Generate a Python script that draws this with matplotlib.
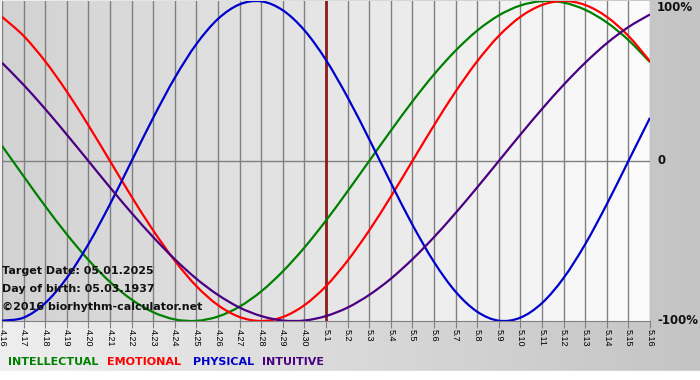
import numpy as np
import matplotlib
matplotlib.use("Agg")
import matplotlib.pyplot as plt
from matplotlib.colors import LinearSegmentedColormap
from matplotlib.path import Path
from matplotlib.patches import PathPatch

# --- data (daily values, 4.16 .. 5.16) ---
dates = ["4.16", "4.17", "4.18", "4.19", "4.20", "4.21", "4.22", "4.23", "4.24",
         "4.25", "4.26", "4.27", "4.28", "4.29", "4.30", "5.1", "5.2", "5.3",
         "5.4", "5.5", "5.6", "5.7", "5.8", "5.9", "5.10", "5.11", "5.12",
         "5.13", "5.14", "5.15", "5.16"]

intellectual = [0.095, -0.095, -0.282, -0.458, -0.618, -0.756, -0.866, -0.945,
                -0.990, -0.999, -0.972, -0.910, -0.815, -0.690, -0.541, -0.372,
                -0.189, 0.0, 0.189, 0.372, 0.541, 0.690, 0.815, 0.910, 0.972,
                0.999, 0.990, 0.945, 0.866, 0.756, 0.618]

emotional = [0.901, 0.782, 0.623, 0.434, 0.223, 0.0, -0.223, -0.434, -0.623,
             -0.782, -0.901, -0.975, -1.0, -0.975, -0.901, -0.782, -0.623,
             -0.434, -0.223, 0.0, 0.223, 0.434, 0.623, 0.782, 0.901, 0.975,
             1.0, 0.975, 0.901, 0.782, 0.623]

physical = [-0.998, -0.979, -0.888, -0.731, -0.520, -0.270, 0.0, 0.270, 0.520,
            0.731, 0.888, 0.979, 0.998, 0.942, 0.817, 0.631, 0.398, 0.136,
            -0.136, -0.398, -0.631, -0.817, -0.942, -0.998, -0.979, -0.888,
            -0.731, -0.520, -0.270, 0.0, 0.270]

intuitive = [0.614, 0.476, 0.325, 0.165, 0.0, -0.165, -0.325, -0.476, -0.614,
             -0.736, -0.837, -0.916, -0.969, -0.997, -0.997, -0.969, -0.916,
             -0.837, -0.736, -0.614, -0.476, -0.325, -0.165, 0.0, 0.165, 0.325,
             0.476, 0.614, 0.736, 0.837, 0.916]

target_day = "5.1"
target_text = "Target Date: 05.01.2025"
birth_text = "Day of birth: 05.03.1937"
credit_text = "\u00a92016 biorhythm-calculator.net"

series = [("INTELLECTUAL", intellectual, "#008000"),
          ("EMOTIONAL", emotional, "#ff0000"),
          ("PHYSICAL", physical, "#0000cc"),
          ("INTUITIVE", intuitive, "#4b0082")]


def smooth_path(xs, ys):
    # cubic bezier segments through the daily points (catmull-rom tangents)
    pts = np.column_stack([xs, ys]).astype(float)
    ext = np.vstack([pts[0], pts, pts[-1]])
    verts = [pts[0]]
    codes = [Path.MOVETO]
    for i in range(len(pts) - 1):
        p0, p1, p2, p3 = ext[i], ext[i + 1], ext[i + 2], ext[i + 3]
        verts += [p1 + (p2 - p0) / 6, p2 - (p3 - p1) / 6, p2]
        codes += [Path.CURVE4] * 3
    return Path(verts, codes)


W, H = 700, 380
fig = plt.figure(figsize=(W / 100, H / 100), dpi=100)

# page background: light on the left, grey on the right
bg = fig.add_axes([0, 0, 1, 1])
bg_cmap = LinearSegmentedColormap.from_list("bg", ["#eeeeee", "#c4c4c4"])
bg.imshow(np.linspace(0, 1, 256)[None, :], cmap=bg_cmap, aspect="auto",
          extent=[0, 1, 0, 1])
bg.axhspan(0, 9 / H, color="white")
bg.set_xlim(0, 1)
bg.set_ylim(0, 1)
bg.axis("off")

# main plot
ax = fig.add_axes([2 / W, 59 / H, 648 / W, 320 / H])
x = np.arange(len(dates))
ax.set_xlim(0, len(dates) - 1)
ax.set_ylim(-1, 1)

plot_cmap = LinearSegmentedColormap.from_list("pl", ["#d2d2d2", "#e6e6e6", "#fcfcfc"])
ax.imshow(np.linspace(0, 1, 256)[None, :], cmap=plot_cmap, aspect="auto",
          extent=[0, len(dates) - 1, -1, 1], zorder=0)

for xi in x:
    ax.axvline(xi, color="#808080", lw=1, zorder=1)
ax.axhline(0, color="#808080", lw=1, zorder=1)
ax.axvline(dates.index(target_day), color="#8b1c1c", lw=2, zorder=2)

for name, vals, col in series:
    ax.add_patch(PathPatch(smooth_path(x, vals), facecolor="none",
                           edgecolor=col, lw=1.6, zorder=3))

ax.set_xticks(x)
ax.set_xticklabels(dates, family="Liberation Sans")
ax.tick_params(axis="x", length=5, color="#808080", labelsize=6.5,
               labelrotation=270, pad=1)
ax.set_yticks([])
for s in ["top", "left", "right"]:
    ax.spines[s].set_visible(False)
ax.spines["bottom"].set_color("#808080")

# right-hand percentage labels
for yv, lab in [(0.96, "100%"), (0.0, "0"), (-1.0, "-100%")]:
    ax.text(1.011, yv, lab, transform=ax.get_yaxis_transform(), ha="left",
            va="center", fontsize=8.5, fontweight="bold", color="#111111",
            clip_on=False)

# info text
for ypx, txt in [(271, target_text), (289, birth_text), (307, credit_text)]:
    fig.text(2 / W, 1 - ypx / H, txt, ha="left", va="center", fontsize=8,
             fontweight="bold", color="#111111", zorder=5)

# legend row
for (name, vals, col), xpx in zip(series, [8, 107, 193, 262]):
    fig.text(xpx / W, 1 - 362 / H, name, ha="left", va="center", fontsize=8,
             fontweight="bold", color=col)

fig.savefig("out.png", dpi=100)
